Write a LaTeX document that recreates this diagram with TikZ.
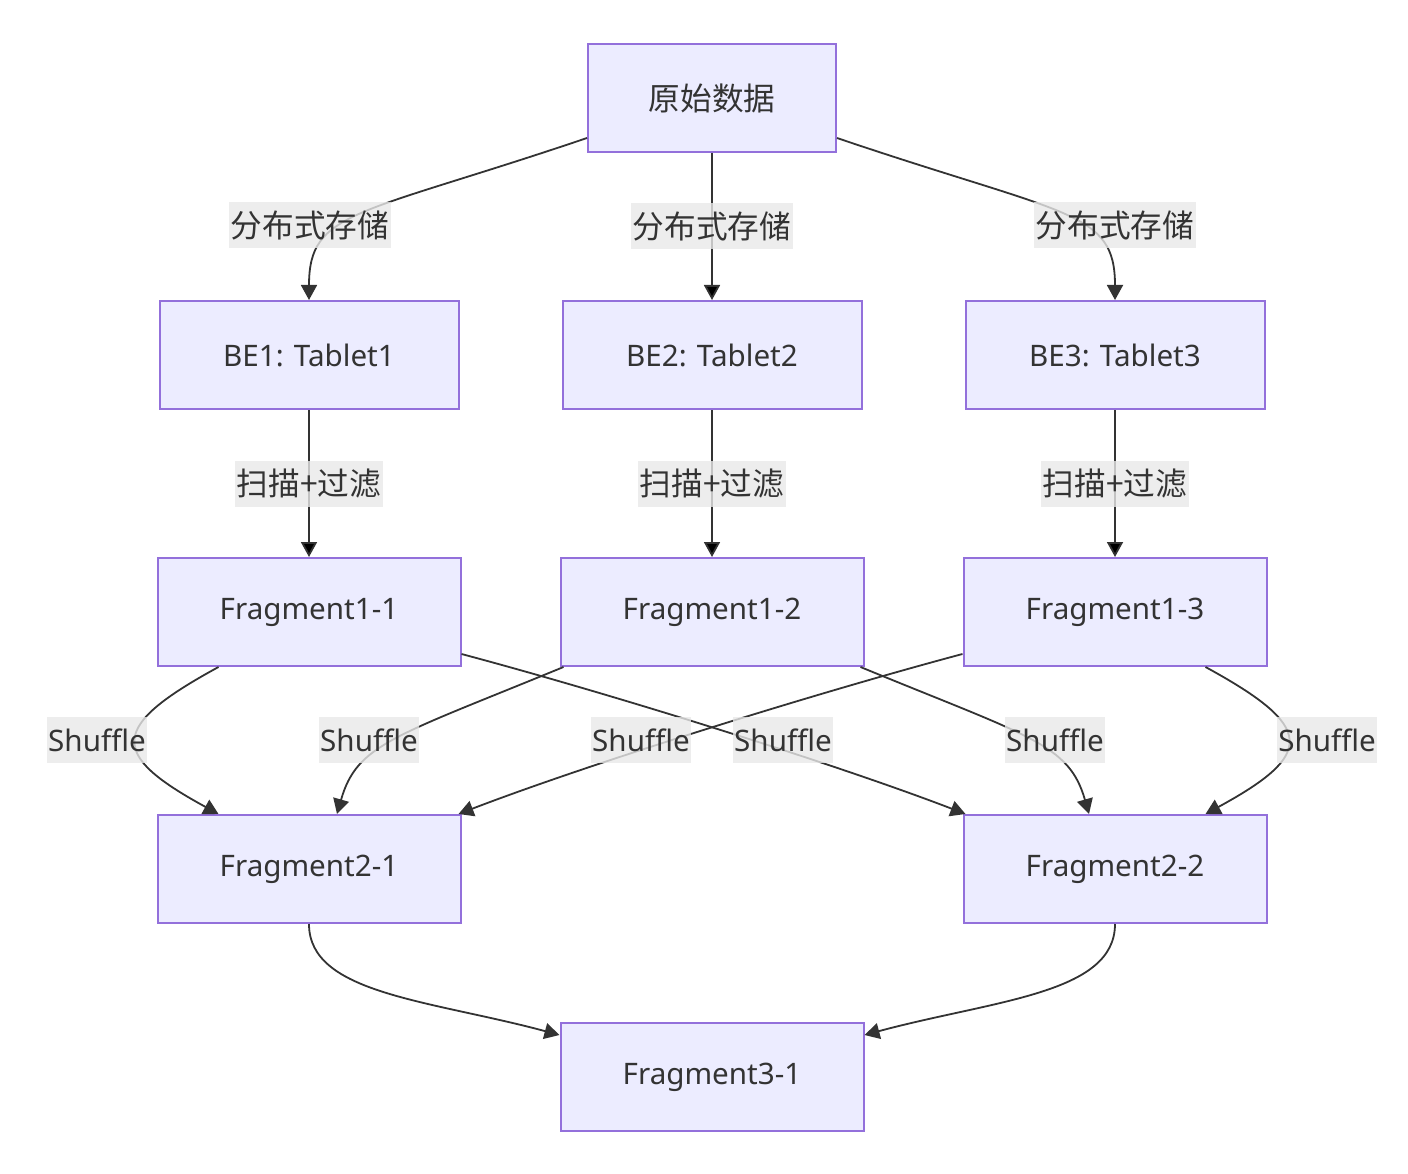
\documentclass[tikz,border=0pt]{standalone}
\usepackage{fontspec}
\setmainfont{Noto Sans}
\newfontfamily\cjk{Noto Sans CJK SC}[Scale=1.07]
\usepackage{tikz}
\usetikzlibrary{arrows.meta}
\definecolor{nodefill}{HTML}{ECECFF}
\definecolor{nodeline}{HTML}{9370DB}
\definecolor{ink}{HTML}{333333}
\definecolor{tagfill}{HTML}{E8E8E8}

\begin{document}
\begin{tikzpicture}[x=1pt,y=-1pt,->,>={Triangle[length=15pt,width=16pt]},node distance=257pt]
      \tikzstyle{line} = [draw=ink, line width=1.8pt]
      \tikzstyle{main node} = [rectangle, fill=nodefill, draw=nodeline, line width=2pt, minimum width=303pt,
         minimum height=108pt, text=ink, font=\fontsize{29.6}{36}\selectfont]
      \tikzstyle{tag node} = [fill=tagfill, fill opacity=0.8, text opacity=1, text=ink, inner xsep=1.5pt,
         inner ysep=2pt, minimum height=46pt, font=\fontsize{29.6}{36}\selectfont]
      \useasboundingbox (0,0) rectangle (1408,1174);

      %nodes
      \node[main node, minimum width=248pt] (raw) at (712,98) {\cjk 原始数据};
      \node[main node, minimum width=299pt] (be2) [below of=raw] {BE2: Tablet2};
      \node[main node, minimum width=299pt] (be1) [left of=be2, xshift=-146pt] {BE1: Tablet1};
      \node[main node, minimum width=299pt] (be3) [right of=be2, xshift=146pt] {BE3: Tablet3};
      \node[main node] (f12) [below of=be2] {Fragment1-2};
      \node[main node] (f11) [left of=f12, xshift=-146pt] {Fragment1-1};
      \node[main node] (f13) [right of=f12, xshift=146pt] {Fragment1-3};
      \node[main node] (f21) [below of=f11] {Fragment2-1};
      \node[main node] (f22) [below of=f13] {Fragment2-2};
      \node[main node] (f31) [below of=f12, yshift=-208pt] {Fragment3-1};

      %lines
      \draw [line] ([yshift=-40pt]raw.west) .. controls +(-230,78) and +(0,-90) .. (be1.north);
      \path [line] (raw) edge node [tag node] {\cjk 分布式存储} (be2);
      \draw [line] ([yshift=-40pt]raw.east) .. controls +(230,78) and +(0,-90) .. (be3.north);
      \path [line] (be1) edge node [tag node] {\cjk 扫描+过滤} (f11);
      \path [line] (be2) edge node [tag node] {\cjk 扫描+过滤} (f12);
      \path [line] (be3) edge node [tag node] {\cjk 扫描+过滤} (f13);

      \draw [line] ([xshift=62pt]f11.south west) .. controls +(-110,60) and +(-110,-60) .. ([xshift=62pt]f21.north west);
      \draw [line] ([xshift=4pt]f12.south west) .. controls +(-170,70) and +(20,-70) .. ([xshift=28pt]f21.north);
      \draw [line] ([yshift=-42pt]f13.west) .. controls +(-150,40) and +(130,-50) .. ([xshift=-3pt]f21.north east);
      \draw [line] ([yshift=-42pt]f11.east) .. controls +(150,40) and +(-130,-50) .. ([xshift=3pt]f22.north west);
      \draw [line] ([xshift=-4pt]f12.south east) .. controls +(170,70) and +(-20,-70) .. ([xshift=-26pt]f22.north);
      \draw [line] ([xshift=-62pt]f13.south east) .. controls +(110,60) and +(110,-60) .. ([xshift=-62pt]f22.north east);

      \draw [line] (f21.south) .. controls +(0,70) and +(-130,-35) .. ([yshift=42pt]f31.west);
      \draw [line] (f22.south) .. controls +(0,70) and +(130,-35) .. ([yshift=42pt]f31.east);

      %labels
      \node[tag node] (d1) at (310,225) {\cjk 分布式存储};
      \node[tag node] (d3) at (1115,225) {\cjk 分布式存储};
      \node[tag node] (s1) at (97,740) {Shuffle};
      \node[tag node] (s2) at (369,740) {Shuffle};
      \node[tag node] (s3) at (641,740) {Shuffle};
      \node[tag node] (s4) at (783,740) {Shuffle};
      \node[tag node] (s5) at (1055,740) {Shuffle};
      \node[tag node] (s6) at (1327,740) {Shuffle};
\end{tikzpicture}
\end{document}
